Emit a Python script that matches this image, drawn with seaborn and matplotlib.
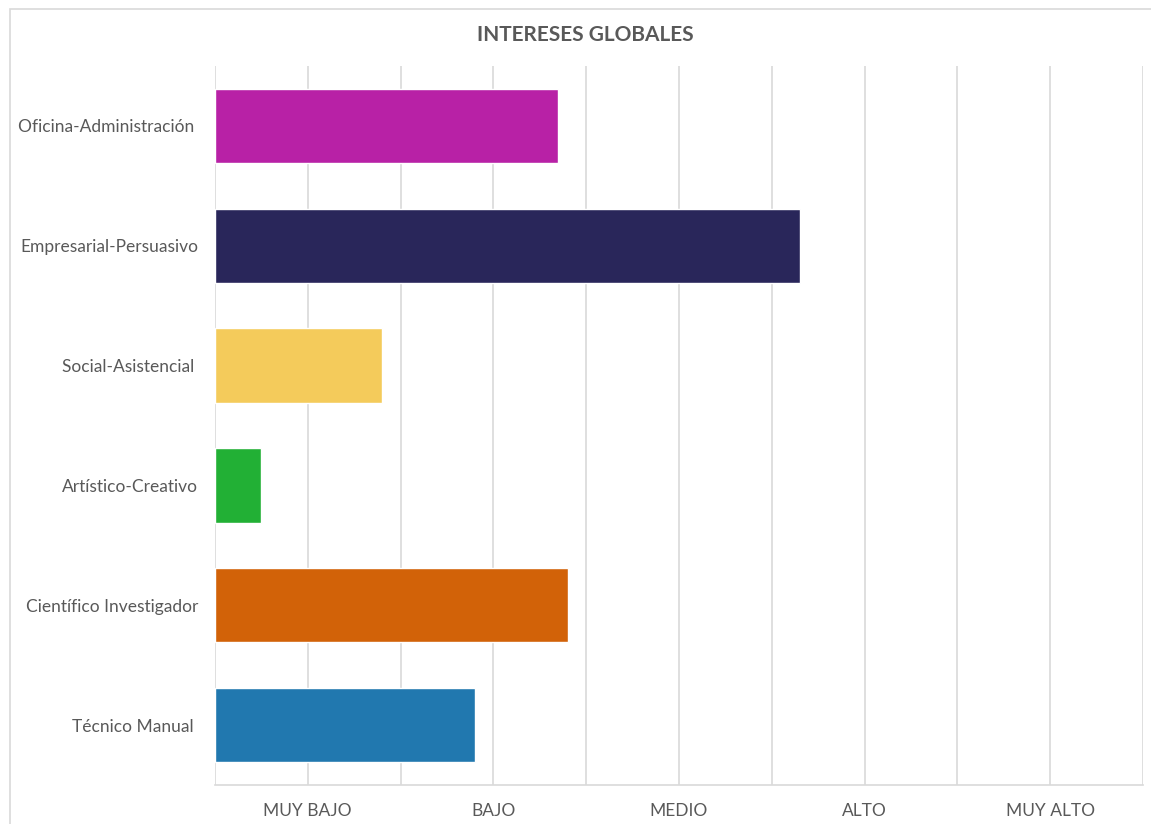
import numpy as np
import pandas as pd
import matplotlib.pyplot as plt
import seaborn as sns
from matplotlib.patches import Rectangle

categorias = ['Oficina-Administración ', 'Empresarial-Persuasivo', 'Social-Asistencial ',
              'Artístico-Creativo', 'Científico Investigador', 'Técnico Manual ']
valores = [37, 63, 18, 5, 38, 28]
colores = ['#B821A6', '#29265A', '#F4CB5B', '#22B035', '#D26208', '#2178AF']
niveles = ['MUY BAJO', 'BAJO', 'MEDIO', 'ALTO', 'MUY ALTO']
pos_niveles = [10, 30, 50, 70, 90]

sns.set_theme(style='white')
plt.rcParams['font.family'] = ['Lato', 'DejaVu Sans']

df = pd.DataFrame({'categoria': categorias, 'valor': valores})

fig = plt.figure(figsize=(11.51, 8.24), dpi=100)
ax = fig.add_axes([215 / 1151, 1 - 785 / 824, (1143 - 215) / 1151, (785 - 66) / 824])

sns.barplot(data=df, x='valor', y='categoria', hue='categoria', palette=colores,
            orient='h', width=0.62, legend=False, ax=ax, saturation=1)

ax.set_xlim(0, 100)
ax.set_ylim(5.5, -0.5)
ax.set_xlabel('')
ax.set_ylabel('')

# gridlines every 10, labels in the middle of each pair
ax.set_xticks(pos_niveles)
ax.set_xticklabels(niveles, fontsize=12.5, color='#595959')
ax.set_xticks(np.arange(0, 101, 20), minor=True)
ax.tick_params(axis='x', which='major', length=0, pad=13)
ax.tick_params(axis='x', which='minor', length=7, width=1.2, color='#D9D9D9', direction='out')
ax.tick_params(axis='y', length=0, pad=12, labelsize=12.5, labelcolor='#595959')

for v in range(0, 101, 10):
    ax.axvline(v, color='#D9D9D9', lw=1.2, zorder=0)
ax.set_axisbelow(True)

for s in ['top', 'right', 'left']:
    ax.spines[s].set_visible(False)
ax.spines['bottom'].set_color('#D9D9D9')
ax.spines['bottom'].set_linewidth(1.2)

fig.text(585 / 1151, 1 - 35 / 824, 'INTERESES GLOBALES', ha='center', va='center',
         fontsize=15, fontweight='bold', color='#595959')

fig.patches.append(Rectangle((10 / 1151, -0.05), 1.2, 1 - 9 / 824 + 0.05, transform=fig.transFigure,
                             fill=False, edgecolor='#D9D9D9', lw=1.2))

fig.savefig('out.png', dpi=100)
